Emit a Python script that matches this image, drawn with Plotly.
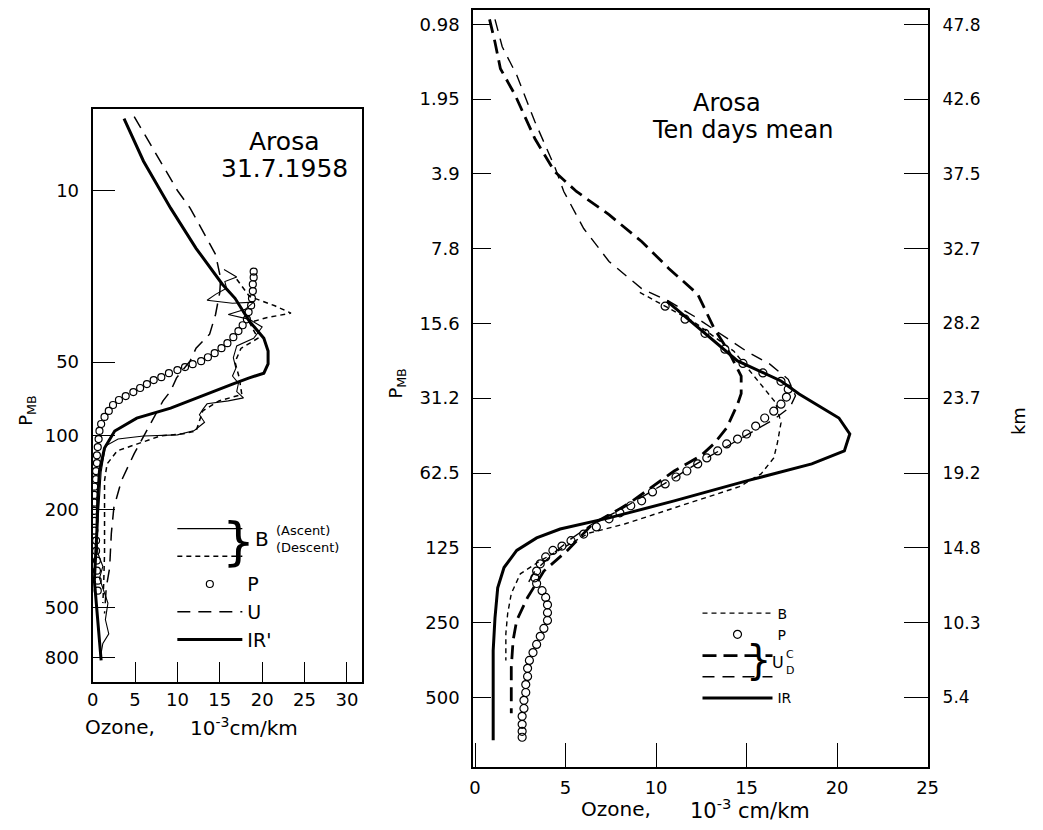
import plotly.graph_objects as go

# page body has an 8px margin: keep the figure inside the viewport
VW, VH = 1043, 830
OFF = 8
W, H = VW - 2 * OFF, VH - 2 * OFF

# ---------------- Left panel: Arosa 31.7.1958 ----------------
left_ir_ozone = [3.7, 6.0, 9.2, 12.2, 15.3, 16.8, 18.5, 20.2, 20.7, 20.7, 20.2, 18.4, 16.5, 13.8,
                 9.2, 5.2, 2.6, 1.4, 0.8, 0.6, 0.5, 0.2, 0.5, 0.8, 1.0]
left_ir_p = [5.1, 7.6, 11.8, 17.2, 24.1, 27.5, 34.1, 40.0, 45.1, 50.9, 55.5, 58.1, 61.5, 66.9,
             77.0, 84.6, 95.5, 112, 139, 179, 243, 388, 529, 681, 822]

left_u_ozone = [4.9, 8.0, 10.0, 11.5, 14.5, 15.1, 15.0, 14.5, 13.8, 12.2, 11.5, 9.9, 9.2, 8.3,
                6.8, 4.9, 3.4, 2.5, 2.2, 2.0, 1.6, 1.4]
left_u_p = [5.0, 7.6, 10, 11.8, 18.2, 22.8, 26, 32, 38.5, 43.9, 49.5, 58, 65.6, 72,
            89.5, 118, 152, 196, 250, 345, 415, 529]

left_bd_ozone = [17.0, 18.5, 21.5, 23.4, 20.5, 18.5, 19.5, 17.5, 16.8, 17.3, 17.6, 14.9, 13.0,
                 12.2, 10.7, 8.0, 5.2, 2.9, 1.7, 1.4, 1.4, 1.4, 1.3, 1.2]
left_bd_p = [23, 27, 29.5, 31.6, 33, 34.5, 40, 44, 50, 58, 67.8, 72, 79,
             95.5, 98, 100, 108, 115, 130, 152, 208, 300, 400, 480]

left_ba_ozone = [15.5, 17.0, 15.6, 15.8, 14.5, 13.5, 16.5, 19.0, 18.0, 16.0, 18.5, 20.0, 19.0,
                 17.0, 16.6, 16.9, 16.5, 17.2, 17.0, 17.8, 16.0, 13.5, 13.0, 12.6, 13.2, 12.0,
                 10.0, 6.0, 3.0, 1.5, 1.0, 0.7, 0.5, 0.6, 1.2, 0.8, 1.3, 1.8, 1.5, 1.9, 1.2, 0.9]
left_ba_p = [21, 22.5, 23.5, 25, 26.5, 28, 28.8, 28.5, 30.5, 32, 33.5, 36, 40,
             43, 48, 53, 57, 61, 66, 70, 72, 74, 78, 82, 88, 95,
             99, 100, 103, 110, 140, 200, 260, 300, 340, 380, 430, 480, 560, 640, 700, 800]

left_p_ozone = [19.0, 19.0, 18.9, 18.9, 18.8, 18.7, 18.4, 18.2, 17.7, 17.2, 16.6, 15.9, 15.2,
                14.4, 13.6, 12.8, 11.8, 10.9, 10.0, 9.0, 8.1, 7.2, 6.4, 5.6, 4.8, 3.9, 3.1,
                2.4, 1.9, 1.4, 1.0, 0.8, 0.7, 0.6, 0.5, 0.5, 0.4, 0.4, 0.2, 0.2, 0.2, 0.2,
                0.2, 0.2, 0.4, 0.4, 0.5, 0.5, 0.6, 0.6]
left_p_p = [21.4, 22.6, 24.1, 25.7, 27.5, 29.4, 31.3, 33.5, 35.4, 37.4, 39.6, 41.9, 43.9,
            46.0, 47.8, 49.6, 51.0, 52.4, 53.9, 55.5, 57.6, 59.2, 61.5, 63.8, 66.3, 68.8, 71.4,
            74.8, 79.1, 83.7, 89.4, 95.4, 103, 111, 120, 129, 139, 150, 161, 174, 187, 202,
            222, 243, 267, 294, 322, 354, 389, 427]

left_yticks = [10, 50, 100, 200, 500, 800]
left_xticks = [0, 5, 10, 15, 20, 25, 30]

# ---------------- Right panel: Arosa, ten days mean ----------------
right_ir_ozone = [10.6, 14.5, 16.9, 17.9, 20.1, 20.7, 20.4, 18.6, 15.0, 11.0, 7.4, 4.7, 3.4,
                  2.3, 1.6, 1.25, 1.1, 1.0, 1.0, 1.0]
right_ir_p = [12.7, 22.1, 26.6, 30.0, 37.5, 43.5, 50.9, 57.4, 67.2, 80.9, 94.7, 105, 114,
              128, 150, 181, 239, 324, 514, 745]

right_b_ozone = [9.1, 12.1, 14.3, 15.8, 16.6, 16.9, 16.7, 16.5, 15.8, 14.6, 13.4, 11.0, 8.3,
                 6.3, 4.9, 3.6, 2.5, 2.0, 1.8, 1.7, 1.7]
right_b_p = [11.7, 15.4, 20.2, 27.4, 32.5, 39.2, 47.3, 54.3, 63.0, 70.9, 75.8, 86.3, 100,
             109, 125, 141, 159, 191, 230, 277, 355]

right_uc_ozone = [0.8, 1.1, 1.4, 2.2, 3.3, 4.4, 5.6, 7.4, 9.2, 10.7, 12.3, 13.2, 14.0, 14.7,
                  14.7, 14.5, 13.9, 13.2, 12.5, 11.0, 8.7, 7.8, 6.5, 5.1, 3.8, 2.9, 2.3, 2.1,
                  2.0, 2.0]
right_uc_p = [0.93, 1.15, 1.47, 1.87, 2.81, 3.82, 4.59, 5.69, 7.30, 9.37, 11.9, 16.3, 20.2,
              25.4, 29.9, 33.0, 41.1, 47.6, 53.0, 61.3, 80.9, 88.7, 100, 128, 155, 198, 245,
              295, 379, 580]

right_ud_ozone = [1.1, 1.5, 2.3, 3.3, 4.4, 4.9, 6.0, 7.4, 9.2, 10.7, 12.1, 13.6, 15.0, 16.3,
                  17.3, 17.7, 17.4, 16.5, 15.2, 13.6, 12.3, 10.9, 9.5, 8.0, 6.5, 5.3, 4.3,
                  3.3, 2.8]
right_ud_p = [0.93, 1.2, 1.56, 2.40, 3.65, 4.59, 6.47, 8.78, 11.3, 12.7, 14.6, 17.3, 20.2,
              22.8, 26.2, 30.5, 33.9, 38, 43, 50, 57, 66, 76, 88, 100, 115, 132, 155, 180]

right_p_ozone = [10.5, 11.6, 12.7, 13.8, 14.8, 15.9, 16.9, 17.3, 17.2, 16.9, 16.5, 16.0, 15.5,
                 15.0, 14.5, 13.9, 13.4, 12.8, 12.3, 11.7, 11.1, 10.5, 9.8, 9.2, 8.6, 8.0, 7.4,
                 6.7, 6.0, 5.3, 4.8, 4.3, 3.9, 3.6, 3.4, 3.3, 3.4, 3.7, 3.9, 4.0, 4.0, 4.0,
                 3.8, 3.6, 3.4, 3.2, 3.0, 2.9, 2.9, 2.8, 2.8, 2.7, 2.7, 2.6, 2.6, 2.6, 2.6]
right_p_p = [13.3, 15.0, 17.1, 19.8, 22.6, 24.7, 26.7, 28.7, 30.9, 33.0, 35.2, 37.5, 40.4,
             43.5, 45.6, 47.7, 50.9, 54.3, 57.4, 61.3, 64.8, 69.1, 74.4, 80.8, 84.6, 90.3, 95.5,
             103, 110, 117, 123, 128, 136, 145, 155, 165, 174, 186, 198, 212, 228, 245,
             264, 284, 306, 330, 355, 382, 412, 444, 478, 514, 554, 596, 642, 685, 724]

right_yticks = [0.98, 1.95, 3.9, 7.8, 15.6, 31.2, 62.5, 125, 250, 500]
right_ytick_text = ["0.98", "1.95", "3.9", "7.8", "15.6", "31.2", "62.5", "125", "250", "500"]
right_km_text = ["47.8", "42.6", "37.5", "32.7", "28.2", "23.7", "19.2", "14.8", "10.3", "5.4"]
right_xticks = [0, 5, 10, 15, 20, 25]

FONT = "DejaVu Sans"
BLACK = "black"


def X(px):
    return (px - OFF) / W


def Y(py):
    return 1 - (py - OFF) / H


fig = go.Figure()

# ---- left traces (legend order) ----
fig.add_trace(go.Scatter(x=left_ba_ozone, y=left_ba_p, mode="lines", name="\u00a0",
                         line=dict(color=BLACK, width=1.1), xaxis="x", yaxis="y", legend="legend"))
fig.add_trace(go.Scatter(x=left_bd_ozone, y=left_bd_p, mode="lines", name="\u00a0\u00a0",
                         line=dict(color=BLACK, width=1.5, dash="5px,4px"), xaxis="x", yaxis="y",
                         legend="legend"))
fig.add_trace(go.Scatter(x=left_p_ozone, y=left_p_p, mode="markers", name="P",
                         marker=dict(symbol="circle-open", size=7, color=BLACK, line=dict(width=1.2)),
                         xaxis="x", yaxis="y", legend="legend"))
fig.add_trace(go.Scatter(x=left_u_ozone, y=left_u_p, mode="lines", name="U",
                         line=dict(color=BLACK, width=1.5, dash="13px,8px"), xaxis="x", yaxis="y",
                         legend="legend"))
fig.add_trace(go.Scatter(x=left_ir_ozone, y=left_ir_p, mode="lines", name="IR'",
                         line=dict(color=BLACK, width=3), xaxis="x", yaxis="y", legend="legend"))

# ---- right traces ----
fig.add_trace(go.Scatter(x=right_b_ozone, y=right_b_p, mode="lines", name="B",
                         line=dict(color=BLACK, width=1.4, dash="5px,4px"), xaxis="x2", yaxis="y2",
                         legend="legend2"))
fig.add_trace(go.Scatter(x=right_p_ozone, y=right_p_p, mode="markers", name="P",
                         marker=dict(symbol="circle-open", size=8, color=BLACK, line=dict(width=1.2)),
                         xaxis="x2", yaxis="y2", legend="legend2"))
fig.add_trace(go.Scatter(x=right_uc_ozone, y=right_uc_p, mode="lines", name="\u00a0",
                         line=dict(color=BLACK, width=2.8, dash="14px,7px"), xaxis="x2", yaxis="y2",
                         legend="legend2"))
fig.add_trace(go.Scatter(x=right_ud_ozone, y=right_ud_p, mode="lines", name="\u00a0\u00a0",
                         line=dict(color=BLACK, width=1.4, dash="12px,8px"), xaxis="x2", yaxis="y2",
                         legend="legend2"))
fig.add_trace(go.Scatter(x=right_ir_ozone, y=right_ir_p, mode="lines", name="IR",
                         line=dict(color=BLACK, width=3), xaxis="x2", yaxis="y2", legend="legend2"))
# carrier for the km axis
fig.add_trace(go.Scatter(x=[None], y=[None], mode="lines", showlegend=False,
                         xaxis="x2", yaxis="y3", hoverinfo="skip"))

axis_common = dict(showline=True, linecolor=BLACK, linewidth=2, mirror=True, showgrid=False,
                   zeroline=False, ticks="inside", tickcolor=BLACK, tickwidth=1.2,
                   tickfont=dict(family=FONT, size=18, color=BLACK))

fig.update_layout(
    width=W, height=H, autosize=False,
    margin=dict(l=0, r=0, t=0, b=0),
    paper_bgcolor="white", plot_bgcolor="white",
    font=dict(family=FONT, color=BLACK),
    xaxis=dict(domain=[X(88), X(362)], range=[0, 31.8], anchor="y",
               tickvals=left_xticks, ticklen=20, ticklabelstandoff=0, **axis_common),
    yaxis=dict(domain=[Y(682), Y(107)], type="log", range=[3.004, 0.667], anchor="x",
               tickvals=left_yticks, ticktext=[str(v) for v in left_yticks], ticklen=22,
               ticklabelstandoff=8, **axis_common),
    xaxis2=dict(domain=[X(475), X(937)], range=[-0.1, 25.0], anchor="y2",
                tickvals=right_xticks, ticklen=24, ticklabelstandoff=3, **axis_common),
    yaxis2=dict(domain=[Y(767), Y(8)], type="log", range=[2.980, -0.069], anchor="x2",
                tickvals=right_yticks, ticktext=right_ytick_text, ticklen=18,
                ticklabelstandoff=8, **axis_common),
    yaxis3=dict(overlaying="y2", side="right", anchor="x2", type="log", range=[2.980, -0.069],
                tickvals=right_yticks, ticktext=right_km_text, ticks="inside", ticklen=24,
                tickcolor=BLACK, tickwidth=1.2, showgrid=False, zeroline=False, showline=False,
                ticklabelstandoff=14, tickfont=dict(family=FONT, size=17, color=BLACK)),
    legend=dict(x=X(169), y=Y(509), xanchor="left", yanchor="top", bgcolor="rgba(0,0,0,0)",
                font=dict(family=FONT, size=19, color=BLACK), tracegroupgap=0, itemwidth=65,
                itemclick=False, itemdoubleclick=False),
    legend2=dict(x=X(703), y=Y(597), xanchor="left", yanchor="top", bgcolor="rgba(0,0,0,0)",
                 font=dict(family=FONT, size=14, color=BLACK), tracegroupgap=0, itemwidth=70,
                 itemclick=False, itemdoubleclick=False),
    showlegend=True,
)

ann = []


def text(px, py, s, size, angle=0, xanchor="center", yanchor="middle"):
    ann.append(dict(x=X(px), y=Y(py), xref="paper", yref="paper", text=s, showarrow=False,
                    textangle=angle, xanchor=xanchor, yanchor=yanchor,
                    font=dict(family=FONT, size=size, color=BLACK)))


# titles
text(283, 140, "Arosa", 25)
text(283, 167, "31.7.1958", 25)
text(733, 101, "Arosa", 24)
text(655, 128, "Ten days mean", 24, xanchor="left")
# axis titles
text(78, 727, "Ozone,", 20, xanchor="left")
text(185, 727, "10<sup>-3</sup>cm/km", 20, xanchor="left")
text(583, 809, "Ozone,", 20, xanchor="left")
text(693, 809, "10<sup>-3</sup> cm/km", 21, xanchor="left")
text(21, 410, "P<sub>MB</sub>", 18, angle=-90)
text(398, 383, "P<sub>MB</sub>", 18, angle=-90)
text(1030, 420, "km", 18, angle=-90)
# left legend decorations
text(236, 540, "}", 52)
text(260, 538, "B", 20)
text(272, 530, "(Ascent)", 13, xanchor="left")
text(272, 547, "(Descent)", 13, xanchor="left")
# right legend decorations
text(765, 660, "}", 40)
text(777, 662, "U", 16, xanchor="left")
text(791, 654, "C", 11, xanchor="left")
text(791, 670, "D", 11, xanchor="left")

fig.update_layout(annotations=ann)

fig.write_html("out.html")
